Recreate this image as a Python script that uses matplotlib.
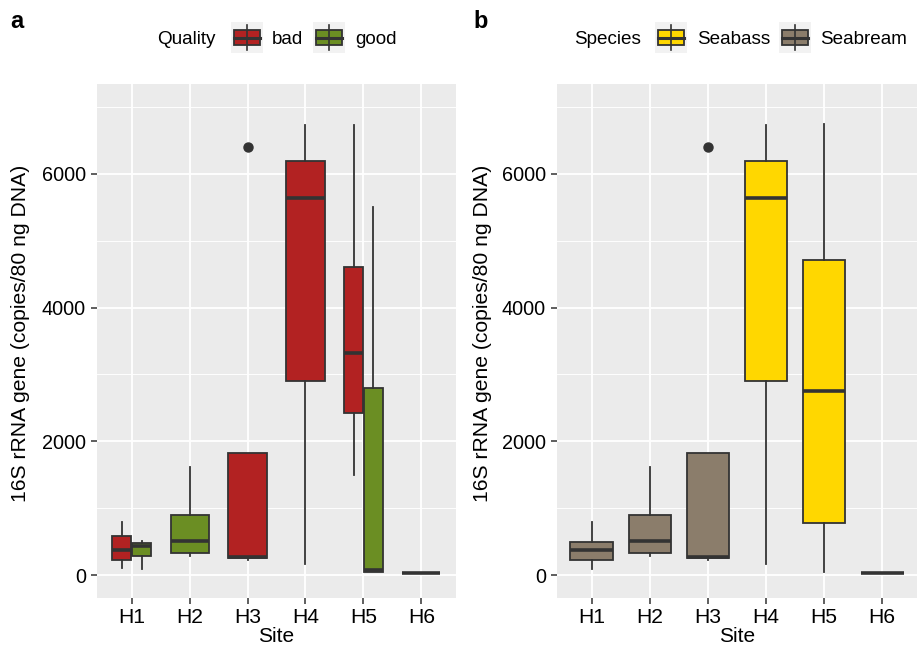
import matplotlib
matplotlib.use("Agg")
import matplotlib.pyplot as plt
from matplotlib.patches import Rectangle

plt.rcParams['font.family'] = ['Liberation Sans', 'DejaVu Sans']

# ---- data ----
sites = ['H1', 'H2', 'H3', 'H4', 'H5', 'H6']

# panel a: boxes split by water quality
left_site = ['H1', 'H1', 'H2', 'H3', 'H4', 'H5', 'H5', 'H6']
left_group = ['bad', 'good', 'good', 'bad', 'bad', 'bad', 'good', 'good']
left_low = [100, 85, 284, 220, 165, 1492, 50, 30]
left_q1 = [225, 284, 325, 250, 2904, 2430, 50, 30]
left_med = [374, 438, 509, 275, 5639, 3323, 80, 30]
left_q3 = [588, 484, 903, 1821, 6187, 4615, 2805, 30]
left_high = [798, 509, 1622, 1821, 6737, 6737, 5513, 30]
left_out = [[], [], [], [6407], [], [], [], []]

# panel b: boxes split by species
right_site = ['H1', 'H2', 'H3', 'H4', 'H5', 'H6']
right_group = ['Seabream', 'Seabream', 'Seabream', 'Seabass', 'Seabass', 'Seabream']
right_low = [85, 284, 220, 165, 50, 30]
right_q1 = [220, 325, 250, 2904, 778, 30]
right_med = [374, 509, 275, 5639, 2754, 30]
right_q3 = [494, 903, 1821, 6187, 4711, 30]
right_high = [798, 1622, 1821, 6737, 6747, 30]
right_out = [[], [], [6407], [], [], []]

quality_levels = ['bad', 'good']
species_levels = ['Seabass', 'Seabream']
colors = {'bad': '#B22222', 'good': '#6B8E23',
          'Seabass': '#FFD700', 'Seabream': '#8B7D6B'}

EDGE = '#333333'
BG = '#EBEBEB'
W, H = 917, 648

fig = plt.figure(figsize=(W / 100, H / 100), dpi=100)


def px_axes(x0, y0, x1, y1):
    return fig.add_axes([x0 / W, 1 - y1 / H, (x1 - x0) / W, (y1 - y0) / H])


def draw_panel(ax, site, group, low, q1, med, q3, high, out, levels, full_w):
    for i in range(len(site)):
        x = sites.index(site[i]) + 1
        n_here = site.count(site[i])
        if n_here > 1:
            k = levels.index(group[i])
            w = full_w / n_here
            pos = x - full_w / 2 + w * (k + 0.5)
        else:
            w = full_w
            pos = x
        stats = [dict(med=med[i], q1=q1[i], q3=q3[i], whislo=low[i],
                      whishi=high[i], fliers=out[i])]
        ax.bxp(stats, positions=[pos], widths=[w * 0.97], patch_artist=True,
               showcaps=False, manage_ticks=False,
               boxprops=dict(facecolor=colors[group[i]], edgecolor=EDGE, linewidth=1.3),
               medianprops=dict(color=EDGE, linewidth=2.6, solid_capstyle='butt'),
               whiskerprops=dict(color=EDGE, linewidth=1.3),
               flierprops=dict(marker='o', markersize=6.5, markerfacecolor=EDGE,
                               markeredgecolor=EDGE))

    ax.set_facecolor(BG)
    ax.set_xlim(0.4, 6.6)
    ax.set_ylim(-344, 7346)
    ax.set_xticks(range(1, 7))
    ax.set_xticklabels(sites)
    ax.set_yticks([0, 2000, 4000, 6000])
    ax.set_yticks([1000, 3000, 5000, 7000], minor=True)
    ax.grid(which='major', color='white', linewidth=1.3)
    ax.grid(which='minor', axis='y', color='white', linewidth=0.65)
    ax.set_axisbelow(True)
    for s in ax.spines.values():
        s.set_visible(False)
    ax.tick_params(axis='both', which='major', length=4, width=1.1, color=EDGE,
                   colors=EDGE, labelcolor='black')
    ax.tick_params(axis='x', labelsize=15.2, pad=3)
    ax.tick_params(axis='y', labelsize=14.3, pad=4)
    ax.tick_params(which='minor', length=0)
    ax.set_xlabel('Site', fontsize=15)
    ax.set_ylabel('16S rRNA gene (copies/80 ng DNA)', fontsize=15.2)
    ax.xaxis.label.set_va('center')
    ax.yaxis.label.set_va('center')


def draw_key(x0, color):
    k = px_axes(x0, 22, x0 + 32, 53)
    k.set_xlim(0, 1)
    k.set_ylim(0, 1)
    k.axis('off')
    k.add_patch(Rectangle((0, 0), 1, 1, facecolor='#F2F2F2', edgecolor='none'))
    k.plot([0.5, 0.5], [0.1, 0.9], color=EDGE, lw=1.2)
    k.add_patch(Rectangle((0.1, 0.25), 0.8, 0.5, facecolor=color, edgecolor=EDGE, lw=1.3))
    k.plot([0.1, 0.9], [0.5, 0.5], color=EDGE, lw=2.2)


ax1 = px_axes(97, 84, 456, 598)
draw_panel(ax1, left_site, left_group, left_low, left_q1, left_med, left_q3,
           left_high, left_out, quality_levels, 0.68)
ax1.yaxis.set_label_coords((21 - 97) / 359, (598 - 333) / 514)
ax1.xaxis.set_label_coords(0.5, (598 - 636) / 514)

ax2 = px_axes(557, 84, 917, 598)
draw_panel(ax2, right_site, right_group, right_low, right_q1, right_med, right_q3,
           right_high, right_out, species_levels, 0.76)
ax2.yaxis.set_label_coords((483 - 557) / 360, (598 - 333) / 514)
ax2.xaxis.set_label_coords(0.5, (598 - 636) / 514)

# legends across the top
fs = 13.6
fig.text(157 / W, 1 - 39 / H, 'Quality', fontsize=fs, va='center')
draw_key(231, colors['bad'])
fig.text(272 / W, 1 - 39 / H, 'bad', fontsize=fs, va='center')
draw_key(313, colors['good'])
fig.text(355 / W, 1 - 39 / H, 'good', fontsize=fs, va='center')

fig.text(574 / W, 1 - 39 / H, 'Species', fontsize=fs, va='center')
draw_key(655, colors['Seabass'])
fig.text(697 / W, 1 - 39 / H, 'Seabass', fontsize=fs, va='center')
draw_key(779, colors['Seabream'])
fig.text(820 / W, 1 - 39 / H, 'Seabream', fontsize=fs, va='center')

# panel tags
fig.text(10 / W, 1 - 22 / H, 'a', fontsize=17, fontweight='bold', va='center')
fig.text(473 / W, 1 - 22 / H, 'b', fontsize=17, fontweight='bold', va='center')

fig.savefig('out.png', dpi=100, facecolor='white')
